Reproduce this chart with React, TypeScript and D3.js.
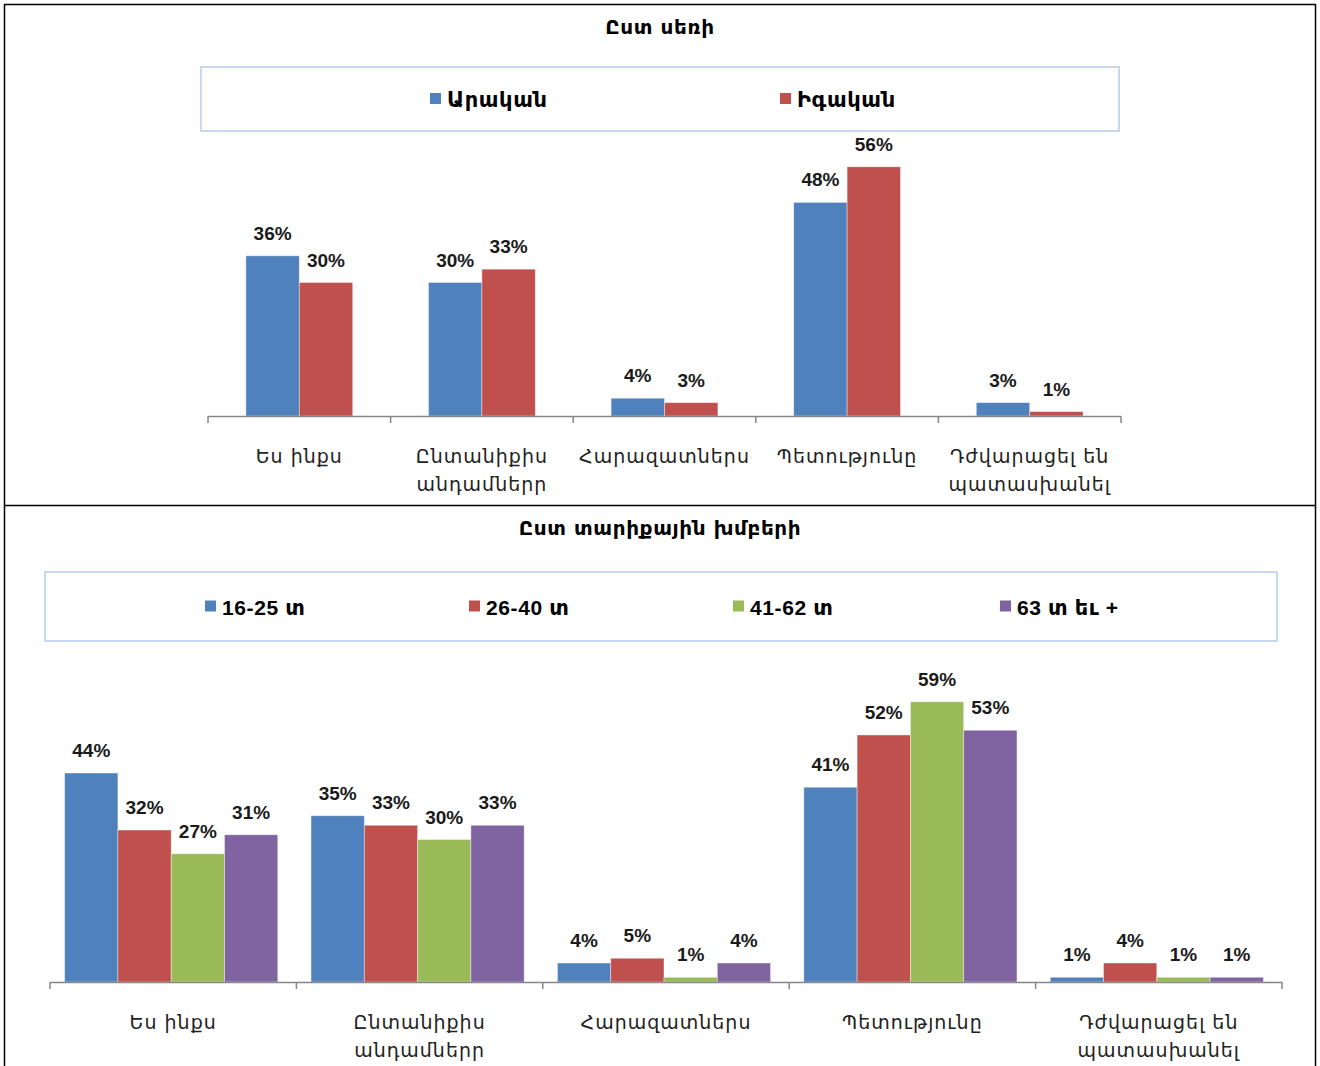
import * as d3 from "d3";

// top panel: by gender
const genderCategories = [
  ["Ես ինքս"],
  ["Ընտանիքիս", "անդամներր"],
  ["Հարազատներս"],
  ["Պետությունը"],
  ["Դժվարացել են", "պատասխանել"],
];
const genderSeries = ["Արական", "Իգական"];
const maleValues = [36, 30, 4, 48, 3];
const femaleValues = [30, 33, 3, 56, 1];

// bottom panel: by age group
const ageCategories = genderCategories;
const ageSeries = ["16-25 տ", "26-40 տ", "41-62 տ", "63 տ եւ +"];
const age16to25 = [44, 35, 4, 41, 1];
const age26to40 = [32, 33, 5, 52, 4];
const age41to62 = [27, 30, 1, 59, 1];
const age63plus = [31, 33, 4, 53, 1];

const COLORS = ["#4f81bd", "#c0504d", "#9bbb59", "#8064a2"];
const AXIS_COLOR = "#868686";
const LEGEND_BORDER = "#c6d9f1";
const LABEL_FONT = "'DejaVu Sans', sans-serif";
const NUM_FONT = "'Liberation Sans', Arial, 'DejaVu Sans', sans-serif";

type PanelProps = {
  title: string;
  titleY: number;
  categories: string[][];
  series: string[];
  values: number[][];
  legendBox: { x: number; y: number; w: number; h: number };
  legendX: number[];
  axisLeft: number;
  axisRight: number;
  axisY: number;
  yMax: number;
  pxPerUnit: number;
  groupFrac: number;
  groupShift: number;
};

const Panel = ({
  title,
  titleY,
  categories,
  series,
  values,
  legendBox,
  legendX,
  axisLeft,
  axisRight,
  axisY,
  yMax,
  pxPerUnit,
  groupFrac,
  groupShift,
}: PanelProps) => {
  const catIdx = categories.map((_, i) => String(i));
  const x0 = d3.scaleBand().domain(catIdx).range([axisLeft, axisRight]);
  const groupWidth = x0.bandwidth() * groupFrac;
  const x1 = d3.scaleBand().domain(series).range([0, groupWidth]);
  const y = d3
    .scaleLinear()
    .domain([0, yMax])
    .range([axisY, axisY - yMax * pxPerUnit]);
  const legendMid = legendBox.y + legendBox.h / 2;

  return (
    <g>
      <text
        x={660}
        y={titleY}
        textAnchor="middle"
        fontFamily={LABEL_FONT}
        fontWeight="bold"
        fontSize={20}
        letterSpacing={0.6}
      >
        {title}
      </text>
      <rect
        x={legendBox.x}
        y={legendBox.y}
        width={legendBox.w}
        height={legendBox.h}
        fill="white"
        stroke={LEGEND_BORDER}
        strokeWidth={2}
      />
      {series.map((s, i) => (
        <g key={s}>
          <rect
            x={legendX[i]}
            y={legendMid - 6}
            width={11}
            height={11}
            fill={COLORS[i]}
          />
          <text
            x={legendX[i] + 17}
            y={legendMid + 8}
            fontFamily={NUM_FONT}
            fontWeight="bold"
            fontSize={21}
            letterSpacing={0.6}
          >
            {s}
          </text>
        </g>
      ))}
      {categories.map((cat, ci) => {
        const gx =
          (x0(String(ci)) ?? 0) + (x0.bandwidth() - groupWidth) / 2 + groupShift;
        return (
          <g key={ci}>
            {series.map((s, si) => {
              const v = values[si][ci];
              const bx = gx + (x1(s) ?? 0);
              return (
                <g key={s}>
                  <rect
                    x={bx}
                    y={y(v)}
                    width={x1.bandwidth()}
                    height={axisY - y(v)}
                    fill={COLORS[si]}
                    stroke="#ffffff"
                    strokeOpacity={0.5}
                    strokeWidth={0.8}
                  />
                  <text
                    x={bx + x1.bandwidth() / 2}
                    y={y(v) - 16}
                    textAnchor="middle"
                    fontFamily={NUM_FONT}
                    fontWeight="bold"
                    fontSize={19}
                    fill="#1a1a1a"
                  >
                    {v + "%"}
                  </text>
                </g>
              );
            })}
            {cat.map((line, li) => (
              <text
                key={li}
                x={(x0(String(ci)) ?? 0) + x0.bandwidth() / 2}
                y={axisY + 47 + li * 28}
                textAnchor="middle"
                fontFamily={LABEL_FONT}
                fontSize={19}
                letterSpacing={1}
                fill="#222"
              >
                {line}
              </text>
            ))}
          </g>
        );
      })}
      <line
        x1={axisLeft}
        x2={axisRight}
        y1={axisY + 0.5}
        y2={axisY + 0.5}
        stroke={AXIS_COLOR}
        strokeWidth={1.5}
      />
      {[...catIdx.map((c) => x0(c) ?? 0), axisRight].map((tx, i) => (
        <line
          key={i}
          x1={tx}
          x2={tx}
          y1={axisY}
          y2={axisY + 7}
          stroke={AXIS_COLOR}
          strokeWidth={1.5}
        />
      ))}
    </g>
  );
};

export default function App() {
  return (
    <div style={{ position: "absolute", left: 0, top: 0 }}>
      <svg width={1320} height={1066} style={{ display: "block" }}>
        <rect width={1320} height={1066} fill="white" />
        <Panel
          title="Ըստ սեռի"
          titleY={34}
          categories={genderCategories}
          series={genderSeries}
          values={[maleValues, femaleValues]}
          legendBox={{ x: 201, y: 67, w: 918, h: 64 }}
          legendX={[430, 780]}
          axisLeft={208}
          axisRight={1121}
          axisY={416}
          yMax={60}
          pxPerUnit={4.45}
          groupFrac={0.585}
          groupShift={0}
        />
        <Panel
          title="Ըստ տարիքային խմբերի"
          titleY={535}
          categories={ageCategories}
          series={ageSeries}
          values={[age16to25, age26to40, age41to62, age63plus]}
          legendBox={{ x: 45, y: 572, w: 1232, h: 69 }}
          legendX={[205, 469, 733, 1000]}
          axisLeft={50}
          axisRight={1282}
          axisY={982}
          yMax={60}
          pxPerUnit={4.75}
          groupFrac={0.865}
          groupShift={-2}
        />
        <rect
          x={4.5}
          y={4.5}
          width={1311}
          height={1075}
          fill="none"
          stroke="black"
          strokeWidth={1.5}
        />
        <line x1={4} x2={1316} y1={505.5} y2={505.5} stroke="black" strokeWidth={1.5} />
      </svg>
    </div>
  );
}
